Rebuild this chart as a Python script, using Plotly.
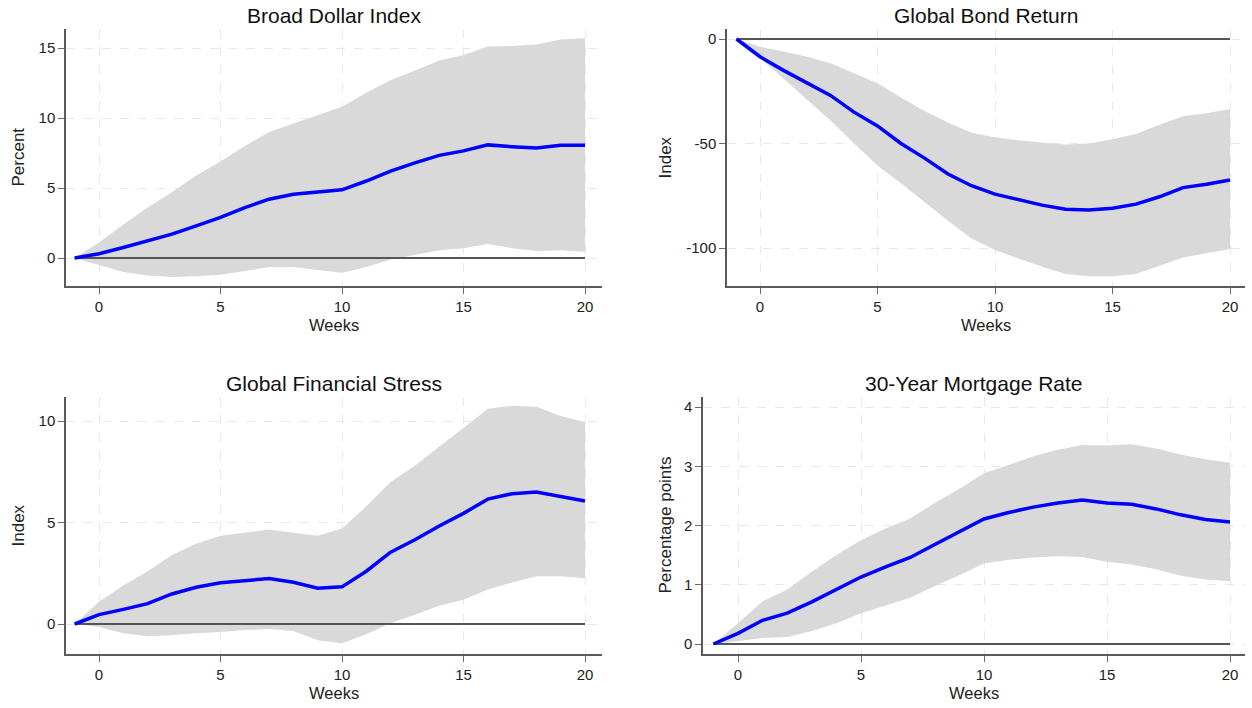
import plotly.graph_objects as go

weeks = list(range(-1, 21))

# Broad Dollar Index (Percent)
dollar_mean = [0, 0.3, 0.75, 1.2, 1.7, 2.3, 2.9, 3.6, 4.2, 4.55, 4.7, 4.87, 5.5, 6.2, 6.8, 7.33, 7.65, 8.08, 7.95, 7.85, 8.05, 8.05]
dollar_hi = [0, 1.1, 2.4, 3.6, 4.7, 5.9, 6.9, 8.0, 9.0, 9.6, 10.2, 10.8, 11.8, 12.7, 13.4, 14.1, 14.5, 15.1, 15.15, 15.25, 15.6, 15.7]
dollar_lo = [0, -0.5, -1.0, -1.25, -1.35, -1.3, -1.2, -0.9, -0.65, -0.65, -0.85, -1.05, -0.65, -0.1, 0.2, 0.55, 0.7, 1.0, 0.7, 0.5, 0.55, 0.45]

# Global Bond Return (Index)
bond_mean = [0, -8.5, -15, -21, -27, -35, -41.6, -50, -57, -64.6, -70.2, -74.2, -77, -79.5, -81.5, -81.8, -81, -79, -75.5, -71.1, -69.5, -67.5]
bond_hi = [0, -3.7, -6, -8.5, -11.6, -16.5, -21.2, -28, -34.5, -40, -44.8, -47, -48.5, -49.5, -50.5, -50, -48, -45.5, -41, -37, -35.5, -33.5]
bond_lo = [0, -9, -19, -29, -39, -50, -60.5, -69, -78, -87, -95.5, -101, -105, -109, -112.5, -113.5, -113.5, -112.5, -108.5, -104.5, -102.5, -100.5]

# Global Financial Stress (Index)
stress_mean = [0, 0.46, 0.72, 1.0, 1.48, 1.81, 2.03, 2.13, 2.24, 2.06, 1.76, 1.83, 2.6, 3.54, 4.15, 4.83, 5.45, 6.15, 6.42, 6.5, 6.3, 6.06]
stress_hi = [0, 1.1, 1.9, 2.6, 3.4, 3.95, 4.35, 4.5, 4.65, 4.5, 4.35, 4.7, 5.8, 7.0, 7.8, 8.75, 9.65, 10.6, 10.75, 10.7, 10.25, 9.95]
stress_lo = [0, -0.15, -0.45, -0.6, -0.55, -0.45, -0.4, -0.3, -0.25, -0.35, -0.8, -0.95, -0.5, 0.05, 0.45, 0.9, 1.2, 1.7, 2.05, 2.35, 2.35, 2.25]

# 30-Year Mortgage Rate (Percentage points)
mort_mean = [0, 0.18, 0.4, 0.52, 0.71, 0.92, 1.13, 1.3, 1.46, 1.68, 1.9, 2.11, 2.22, 2.31, 2.38, 2.43, 2.38, 2.36, 2.28, 2.18, 2.1, 2.06]
mort_hi = [0, 0.35, 0.72, 0.92, 1.22, 1.5, 1.75, 1.95, 2.12, 2.38, 2.62, 2.88, 3.02, 3.17, 3.28, 3.36, 3.35, 3.37, 3.3, 3.2, 3.12, 3.06]
mort_lo = [0, 0.05, 0.1, 0.12, 0.22, 0.35, 0.52, 0.65, 0.78, 0.98, 1.16, 1.36, 1.42, 1.46, 1.48, 1.47, 1.39, 1.34, 1.26, 1.15, 1.09, 1.06]

titles = ["Broad Dollar Index", "Global Bond Return", "Global Financial Stress", "30-Year Mortgage Rate"]
ytitles = ["Percent", "Index", "Index", "Percentage points"]
x_ticks = [0, 5, 10, 15, 20]
x_ticklabels = ["0", "5", "10", "15", "20"]
y_ticks = [[0, 5, 10, 15], [-100, -50, 0], [0, 5, 10], [0, 1, 2, 3, 4]]
y_ticklabels = [["0", "5", "10", "15"], ["-100", "-50", "0"], ["0", "5", "10"], ["0", "1", "2", "3", "4"]]

panels = [
    (dollar_mean, dollar_hi, dollar_lo),
    (bond_mean, bond_hi, bond_lo),
    (stress_mean, stress_hi, stress_lo),
    (mort_mean, mort_hi, mort_lo),
]

# page pixel geometry (body margin removed via post_script)
W, H = 1252, 708
def px_x(v):
    return v / W
def px_y(v):
    return (H - v) / H

# plot area boxes in page pixels (left, right, top, bottom)
boxes = [(66, 602, 29, 286), (727, 1245, 29, 286), (66, 602, 397, 654), (703, 1245, 397, 654)]
# calibration: (value_a, pixel_a, value_b, pixel_b)
xcal = [(0, 99, 20, 585), (0, 760, 20, 1230), (0, 99, 20, 585), (0, 738, 20, 1230)]
ycal = [(0, 258, 15, 48), (0, 39, -100, 248), (0, 624, 10, 421), (0, 644, 4, 407)]
ytitle_x = [18, 665, 18, 665]

def rng(cal, p_lo, p_hi):
    va, pa, vb, pb = cal
    s = (vb - va) / (pb - pa)
    return [va + (p_lo - pa) * s, va + (p_hi - pa) * s]

FONT = "Liberation Sans, Arial, sans-serif"
fig = go.Figure()
layout = dict(
    width=W, height=H, margin=dict(l=0, r=0, t=0, b=0),
    paper_bgcolor="white", plot_bgcolor="white", showlegend=False,
    font=dict(family=FONT, color="#222222", size=15),
)
annotations = []

for i, (mean, hi, lo) in enumerate(panels):
    n = i + 1
    xa = "x" if n == 1 else f"x{n}"
    ya = "y" if n == 1 else f"y{n}"
    fig.add_trace(go.Scatter(
        x=weeks + weeks[::-1], y=hi + lo[::-1], fill="toself",
        fillcolor="#d9d9d9", line=dict(width=0), mode="lines",
        hoverinfo="skip", xaxis=xa, yaxis=ya))
    fig.add_trace(go.Scatter(
        x=[weeks[0], weeks[-1]], y=[0, 0], mode="lines",
        line=dict(color="#555555", width=2), xaxis=xa, yaxis=ya))
    fig.add_trace(go.Scatter(
        x=weeks, y=mean, mode="lines",
        line=dict(color="#0000ff", width=3.5), xaxis=xa, yaxis=ya))

    l, r, t, b = boxes[i]
    common = dict(
        showline=True, linecolor="#5a5a5a", linewidth=1.5,
        ticks="outside", ticklen=6, tickcolor="#6a6a6a", tickwidth=1,
        showgrid=True, gridcolor="#e8e8e8", gridwidth=1, griddash="dash",
        zeroline=False, tickfont=dict(size=15, family=FONT, color="#222222"),
    )
    layout["xaxis" if n == 1 else f"xaxis{n}"] = dict(
        common, domain=[px_x(l), px_x(r)], range=rng(xcal[i], l, r),
        tickmode="array", tickvals=x_ticks, ticktext=x_ticklabels, anchor=ya)
    layout["yaxis" if n == 1 else f"yaxis{n}"] = dict(
        common, domain=[px_y(b), px_y(t)], range=rng(ycal[i], b, t),
        tickmode="array", tickvals=y_ticks[i], ticktext=y_ticklabels[i], anchor=xa)

    cx = (l + r) / 2
    annotations.append(dict(
        text=titles[i], x=px_x(cx), y=px_y(t - 14), xref="paper", yref="paper",
        xanchor="center", yanchor="middle", showarrow=False,
        font=dict(size=21, family=FONT, color="#111111")))
    annotations.append(dict(
        text="Weeks", x=px_x(cx), y=px_y(b + 39), xref="paper", yref="paper",
        xanchor="center", yanchor="middle", showarrow=False,
        font=dict(size=16.5, family=FONT, color="#222222")))
    annotations.append(dict(
        text=ytitles[i], x=px_x(ytitle_x[i]), y=px_y((t + b) / 2), xref="paper", yref="paper",
        xanchor="center", yanchor="middle", showarrow=False, textangle=-90,
        font=dict(size=17, family=FONT, color="#222222")))

layout["annotations"] = annotations
fig.update_layout(**layout)
fig.write_html(
    "out.html",
    config={"displayModeBar": False},
    post_script="document.body.style.margin='0';document.body.style.overflow='hidden';",
)
